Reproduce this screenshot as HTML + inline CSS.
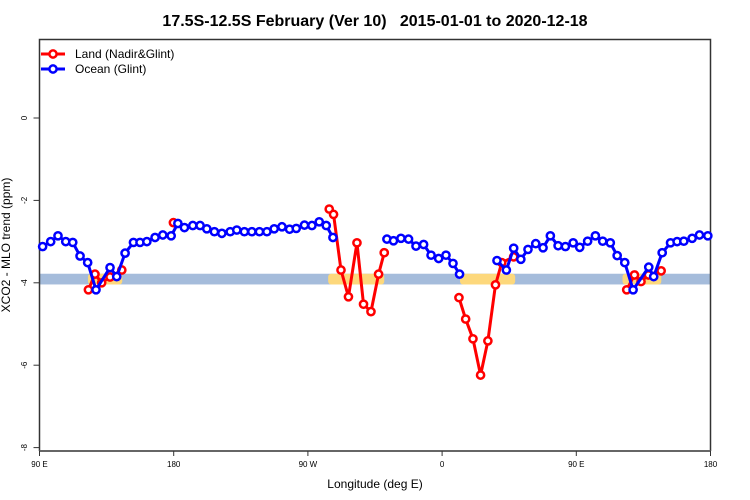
<!DOCTYPE html>
<html><head><meta charset="utf-8"><style>
body{margin:0;background:#fff}
svg{display:block;font-family:"Liberation Sans",sans-serif}
</style></head><body>
<svg id="chart" width="750" height="500">
<text x="375" y="26" text-anchor="middle" font-size="16" font-weight="bold" style="white-space:pre">17.5S-12.5S February (Ver 10)   2015-01-01 to 2020-12-18</text>
<g id="band"></g>
<g id="axes"></g>
<g id="series"></g>
<g>
 <g>
  <line x1="41" y1="54" x2="65" y2="54" stroke="#f00" stroke-width="3"/>
  <circle cx="53" cy="54" r="3.6" fill="#fff" stroke="#f00" stroke-width="2.5"/>
  <text x="75" y="58" font-size="12">Land (Nadir&amp;Glint)</text>
 </g>
 <g>
  <line x1="41" y1="69" x2="65" y2="69" stroke="#00f" stroke-width="3"/>
  <circle cx="53" cy="69" r="3.6" fill="#fff" stroke="#00f" stroke-width="2.5"/>
  <text x="75" y="73" font-size="12">Ocean (Glint)</text>
 </g>
</g>
<text x="375" y="488" text-anchor="middle" font-size="12">Longitude (deg E)</text>
<text transform="translate(10,245) rotate(-90)" text-anchor="middle" font-size="12">XCO2 - MLO trend (ppm)</text>
</svg>
<script>
const xTickLons=[90,180,270,360,450,540];
const xTickLabels=["90 E","180","90 W","0","90 E","180"];
const yTicks=[0,-2,-4,-6,-8];
const oceanLon=[92.1,97.5,102.4,107.6,112.3,117.2,122.3,127.9,137.3,141.8,147.4,153.0,157.4,162.0,167.5,172.7,178.3,182.8,187.2,192.8,197.7,202.2,207.3,212.3,217.9,222.3,227.4,232.4,237.5,242.5,247.4,252.6,257.7,262.2,267.7,272.7,277.6,282.3,286.8,323.0,327.4,332.4,337.5,342.5,347.6,352.6,357.7,362.6,367.3,371.7,396.8,403.1,408.0,412.8,417.6,422.8,427.7,432.6,437.8,442.7,447.9,452.3,457.6,462.8,467.7,472.8,477.4,482.5,488.1,498.6,501.9,507.6,513.2,517.6,522.1,527.7,532.6,538.2];
const oceanVal=[-3.12,-3.00,-2.86,-3.00,-3.02,-3.35,-3.51,-4.17,-3.63,-3.85,-3.28,-3.02,-3.02,-3.00,-2.90,-2.84,-2.86,-2.56,-2.66,-2.61,-2.61,-2.69,-2.76,-2.80,-2.76,-2.72,-2.76,-2.76,-2.76,-2.76,-2.69,-2.64,-2.70,-2.68,-2.60,-2.61,-2.52,-2.61,-2.90,-2.94,-2.98,-2.92,-2.94,-3.11,-3.07,-3.33,-3.41,-3.33,-3.53,-3.79,-3.46,-3.69,-3.16,-3.43,-3.19,-3.05,-3.15,-2.86,-3.10,-3.12,-3.03,-3.14,-2.99,-2.86,-2.99,-3.03,-3.34,-3.51,-4.17,-3.62,-3.85,-3.27,-3.03,-3.00,-2.99,-2.92,-2.84,-2.86];
const landLon=[122.8,127.2,131.7,137.3,145.2,179.8,284.3,287.2,292.2,297.2,302.9,307.3,312.3,317.4,321.2,371.3,375.8,380.7,385.8,390.7,395.8,400.0,408.0,483.8,489.0,493.4,498.4,506.9];
const landVal=[-4.17,-3.79,-4.00,-3.86,-3.69,-2.54,-2.21,-2.34,-3.69,-4.34,-3.03,-4.52,-4.70,-3.79,-3.27,-4.36,-4.88,-5.36,-6.24,-5.41,-4.05,-3.51,-3.37,-4.17,-3.81,-3.97,-3.81,-3.71];
const landCoverStart=[122.5,283.6,372,481];
const landCoverEnd=[145.5,321.2,409,507];
const bandTop=-3.78, bandBottom=-4.04;

const NS="http://www.w3.org/2000/svg";
const X0=39.5,X1=710.5,Y0=39.5,Y1=451;
const xs=l=>X0+(l-90)*(X1-X0)/450;
const ys=v=>118-v*41.2;
function mk(tag,attrs,parent){const e=document.createElementNS(NS,tag);for(const k in attrs)e.setAttribute(k,attrs[k]);parent.appendChild(e);return e;}
const band=document.getElementById('band'),axes=document.getElementById('axes'),series=document.getElementById('series');
let r=mk('rect',{x:X0,y:ys(bandTop),width:X1-X0,height:ys(bandBottom)-ys(bandTop),fill:'#a5bcdb'},band);


landCoverStart.forEach((s,i)=>{
 const e=mk('rect',{x:xs(s),y:ys(bandTop),width:xs(landCoverEnd[i])-xs(s),height:ys(bandBottom)-ys(bandTop),fill:'#fdd87c',rx:3},band);
 
 
});
let f=mk('path',{d:`M${X0},${Y1}V${Y0}H${X1}V${Y1}`,fill:'none',stroke:'#333',"stroke-width":1.5},axes);


let b=mk('line',{x1:X0,y1:Y1,x2:X1,y2:Y1,stroke:'#666',"stroke-width":2},axes);


xTickLons.forEach((l,i)=>{
 mk('line',{x1:xs(l),y1:Y1,x2:xs(l),y2:Y1+5,stroke:'#333'},axes);
 const t=mk('text',{x:xs(l),y:Y1+16,"text-anchor":"middle","font-size":8},axes);
 t.textContent=xTickLabels[i];
 
 
});
yTicks.forEach(v=>{
 mk('line',{x1:X0-6,y1:ys(v),x2:X0,y2:ys(v),stroke:'#333'},axes);
 const t=mk('text',{transform:`translate(27,${ys(v)}) rotate(-90)`,"text-anchor":"middle","font-size":8},axes);
 t.textContent=String(v);
 
 
});
function drawSeries(lons,vals,color,name){
 const g=mk('g',{},series);
 
 
 let d='';
 lons.forEach((l,i)=>{d+=(i===0||l-lons[i-1]>12?'M':'L')+xs(l)+','+ys(vals[i]);});
 mk('path',{d:d,fill:'none',stroke:color,"stroke-width":3,"stroke-linejoin":"round"},g);
 lons.forEach((l,i)=>{
  const c=mk('circle',{cx:xs(l),cy:ys(vals[i]),r:3.6,fill:'#fff',stroke:color,"stroke-width":2.5},g);
  
  
 });
}
drawSeries(landLon,landVal,'#f00','land');
drawSeries(oceanLon,oceanVal,'#00f','ocean');
</script>
</body></html>
